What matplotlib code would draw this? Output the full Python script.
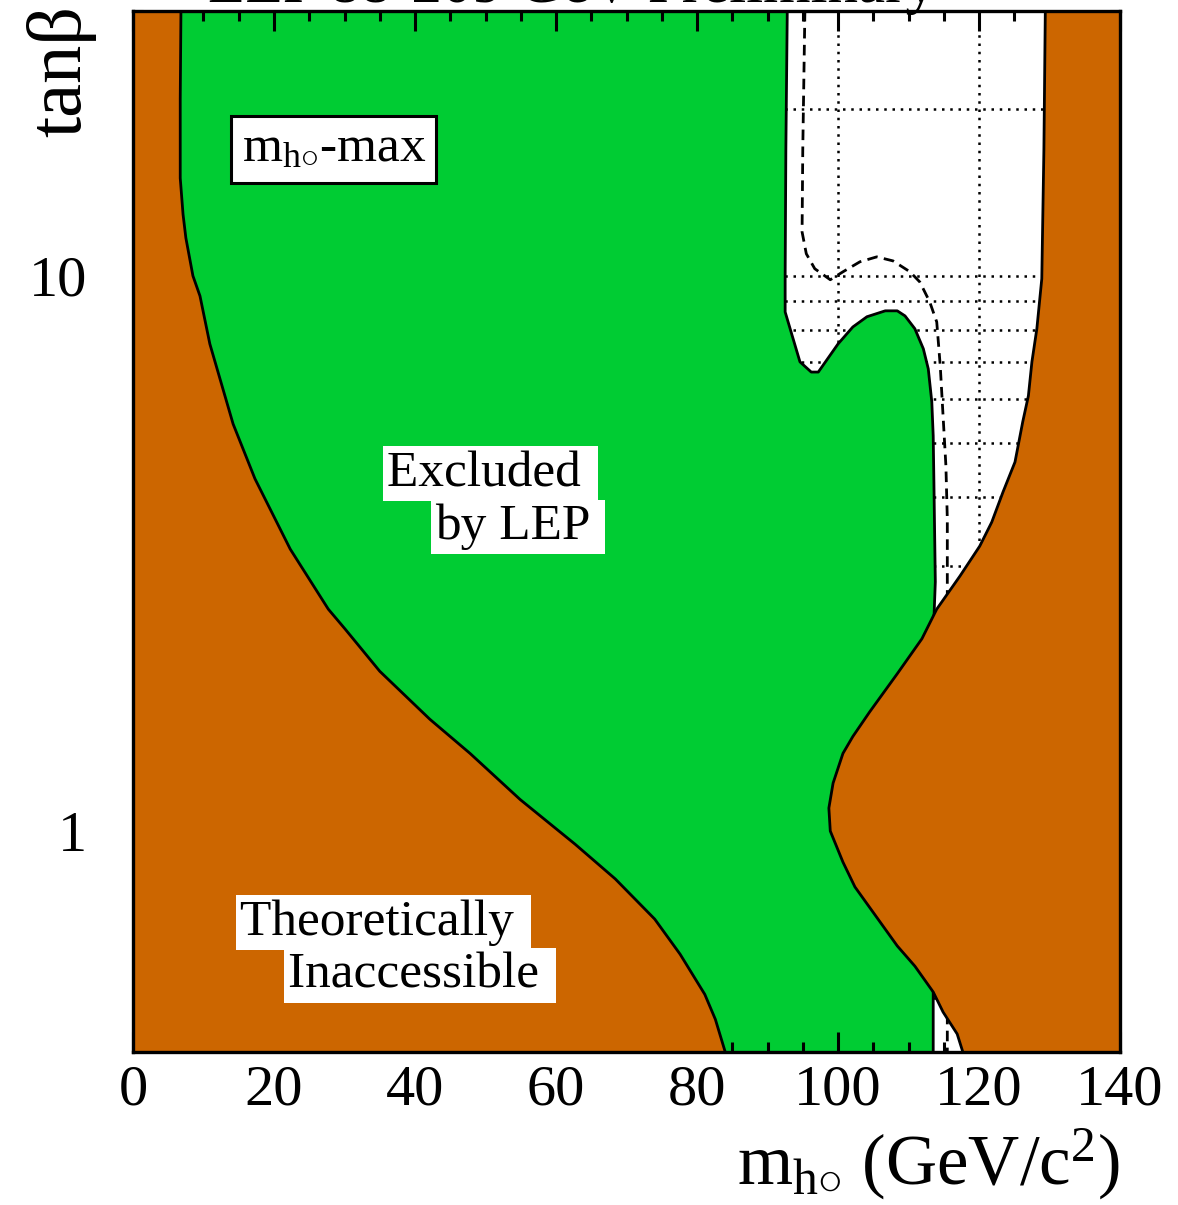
import matplotlib
matplotlib.use('Agg')
import matplotlib.pyplot as plt
from matplotlib.ticker import FixedLocator, FixedFormatter, NullFormatter

plt.rcParams['font.family'] = ['Liberation Serif', 'DejaVu Serif']
plt.rcParams['mathtext.fontset'] = 'custom'
plt.rcParams['mathtext.rm'] = 'Liberation Serif'
plt.rcParams['mathtext.it'] = 'Liberation Serif:italic'
plt.rcParams['mathtext.bf'] = 'Liberation Serif:bold'

# ---------------- data ----------------
# theoretically inaccessible region, left boundary (mh, tanb)
theory_left_mh = [6.8, 6.7, 6.7, 7.1, 7.5, 8.5, 9.5, 10.9, 14.2, 17.3, 22.3, 27.7, 30.1,
                  35.0, 42.1, 47.8, 54.9, 62.7, 68.4, 74.0, 77.6, 81.1, 82.6, 84.0]
theory_left_tanb = [30, 20.8, 15.0, 12.9, 11.7, 10.0, 9.2, 7.54, 5.41, 4.31, 3.22, 2.51, 2.31,
                    1.94, 1.59, 1.38, 1.14, 0.947, 0.82, 0.694, 0.60, 0.508, 0.458, 0.40]

# theoretically inaccessible region, right boundary (upper mh limit)
theory_right_mh = [129.4, 129.2, 128.9, 128.2, 127.5, 127.0, 126.2, 125.1, 123.4, 121.8, 120.1,
                   117.3, 114.0, 111.9, 108.4, 104.5, 102.1, 100.7, 99.3, 98.7, 98.9, 100.7,
                   102.4, 108.4, 110.9, 113.5, 114.9, 116.9, 117.7]
theory_right_tanb = [30, 16.9, 9.88, 8.03, 7.0, 6.08, 5.46, 4.62, 4.08, 3.60, 3.26,
                     2.88, 2.51, 2.22, 1.92, 1.64, 1.48, 1.38, 1.22, 1.10, 1.00, 0.879,
                     0.793, 0.621, 0.571, 0.513, 0.472, 0.431, 0.40]

# LEP observed exclusion boundary
lep_obs_mh = [92.8, 92.6, 92.5, 92.5, 94.6, 96.2, 97.2, 100.0, 102.1, 104.1, 106.7, 108.4,
              109.5, 110.9, 112.1, 112.8, 113.3, 113.5, 113.6, 113.8, 113.6, 113.5, 113.5]
lep_obs_tanb = [30, 16.9, 10.0, 8.61, 7.0, 6.71, 6.71, 7.54, 8.09, 8.44, 8.65, 8.65,
                8.47, 8.03, 7.39, 6.80, 5.93, 5.15, 4.25, 2.81, 2.41, 0.513, 0.40]

# LEP expected exclusion boundary
lep_exp_mh = [95.3, 95.0, 94.9, 95.5, 96.7, 98.9, 100.7, 103.1, 105.5, 107.8, 110.2, 111.6,
              113.0, 114.0, 114.5, 114.9, 115.3, 115.5, 115.5]
lep_exp_tanb = [30, 16.9, 12.0, 10.96, 10.3, 9.84, 10.17, 10.6, 10.82, 10.64, 10.17, 9.75,
                8.98, 8.26, 6.88, 5.59, 4.55, 3.65, 0.40]

x_ticks = [0, 20, 40, 60, 80, 100, 120, 140]
x_minor = [v for v in range(0, 141, 5) if v % 20 != 0]
y_major = [1, 10]
y_major_labels = ['1', '10']
y_minor = [0.5, 0.6, 0.7, 0.8, 0.9, 2, 3, 4, 5, 6, 7, 8, 9, 20, 30]
grid_x = [20, 40, 60, 80, 100, 120]
grid_y = [0.5, 0.6, 0.7, 0.8, 0.9, 1, 2, 3, 4, 5, 6, 7, 8, 9, 10, 20]

XMIN, XMAX = 0, 140
YMIN, YMAX = 0.4, 30

ORANGE = '#CC6600'
GREEN = '#00CC33'

# ---------------- figure ----------------
fig = plt.figure(figsize=(11.78, 12.05), dpi=100)
ax = fig.add_axes([0.1129, 0.1270, 0.8379, 0.8639])
ax.set_yscale('log')
ax.set_xlim(XMIN, XMAX)
ax.set_ylim(YMIN, YMAX)

# dotted grid (under everything)
dot = (0, (1, 2.3))
for gx in grid_x:
    ax.plot([gx, gx], [YMIN, YMAX], color='black', lw=1.8, linestyle=dot, zorder=0.5)
for gy in grid_y:
    ax.plot([XMIN, XMAX], [gy, gy], color='black', lw=1.8, linestyle=dot, zorder=0.5)

# green LEP exclusion: between theory left boundary and observed line
gx_poly = list(theory_left_mh) + list(lep_obs_mh[::-1])
gy_poly = list(theory_left_tanb) + list(lep_obs_tanb[::-1])
ax.fill(gx_poly, gy_poly, color=GREEN, lw=0, zorder=1)
ax.plot(lep_obs_mh, lep_obs_tanb, color='black', lw=2.0, zorder=1.5)

# expected (dashed)
ax.plot(lep_exp_mh, lep_exp_tanb, color='black', lw=2.0, linestyle=(0, (3.8, 2.3)), zorder=1.2)

# theoretically inaccessible regions
ax.fill([XMIN] + theory_left_mh + [XMIN], [YMAX] + theory_left_tanb + [YMIN],
        color=ORANGE, lw=0, zorder=2)
ax.fill(theory_right_mh + [XMAX, XMAX], theory_right_tanb + [YMIN, YMAX],
        color=ORANGE, lw=0, zorder=2)
ax.plot(theory_left_mh, theory_left_tanb, color='black', lw=2.0, zorder=3)
ax.plot(theory_right_mh, theory_right_tanb, color='black', lw=2.0, zorder=3)

# ticks
ax.xaxis.set_major_locator(FixedLocator(x_ticks))
ax.xaxis.set_minor_locator(FixedLocator(x_minor))
ax.yaxis.set_major_locator(FixedLocator(y_major))
ax.yaxis.set_major_formatter(FixedFormatter(y_major_labels))
ax.yaxis.set_minor_locator(FixedLocator(y_minor))
ax.yaxis.set_minor_formatter(NullFormatter())
ax.tick_params(which='both', direction='in', top=True, right=True, width=2.2,
               labelsize=42, zorder=10)
ax.tick_params(which='major', length=14.5)
ax.tick_params(which='minor', length=7.5)
ax.tick_params(axis='x', pad=9)
ax.tick_params(axis='y', pad=33)
for sp in ax.spines.values():
    sp.set_linewidth(2.4)
    sp.set_zorder(10)

# annotations
white_box = dict(boxstyle='square,pad=0.08', fc='white', ec='none')
ax.text(15.4, 16.9, 'm$_{\\mathrm{h}{\\circ}}$-max', fontsize=37, ha='left', va='center',
        bbox=dict(boxstyle='square,pad=0.2', fc='white', ec='black', lw=2.2), zorder=6)
ax.text(36.0, 4.40, 'Excluded ', fontsize=37, ha='left', va='center', bbox=white_box, zorder=6)
ax.text(42.8, 3.53, 'by LEP ', fontsize=37, ha='left', va='center', bbox=white_box, zorder=6)
ax.text(15.2, 0.685, 'Theoretically ', fontsize=37, ha='left', va='center', bbox=white_box, zorder=6)
ax.text(22.0, 0.550, 'Inaccessible ', fontsize=37, ha='left', va='center', bbox=white_box, zorder=6)

# axis labels and title
fig.text(1120 / 1178, 1 - 1185 / 1205, 'm$_{\\mathrm{h}{\\circ}}$ (GeV/c$^{2}$)', fontsize=51,
         ha='right', va='baseline')
fig.text(80 / 1178, 1 - 5 / 1205, 'tan\u03b2', fontsize=55, rotation=90,
         rotation_mode='anchor', ha='right', va='baseline')
fig.text(572 / 1178, 1 - 2 / 1205, 'LEP 88-209 GeV Preliminary', fontsize=44,
         ha='center', va='baseline')

fig.savefig('out.png', dpi=100)
